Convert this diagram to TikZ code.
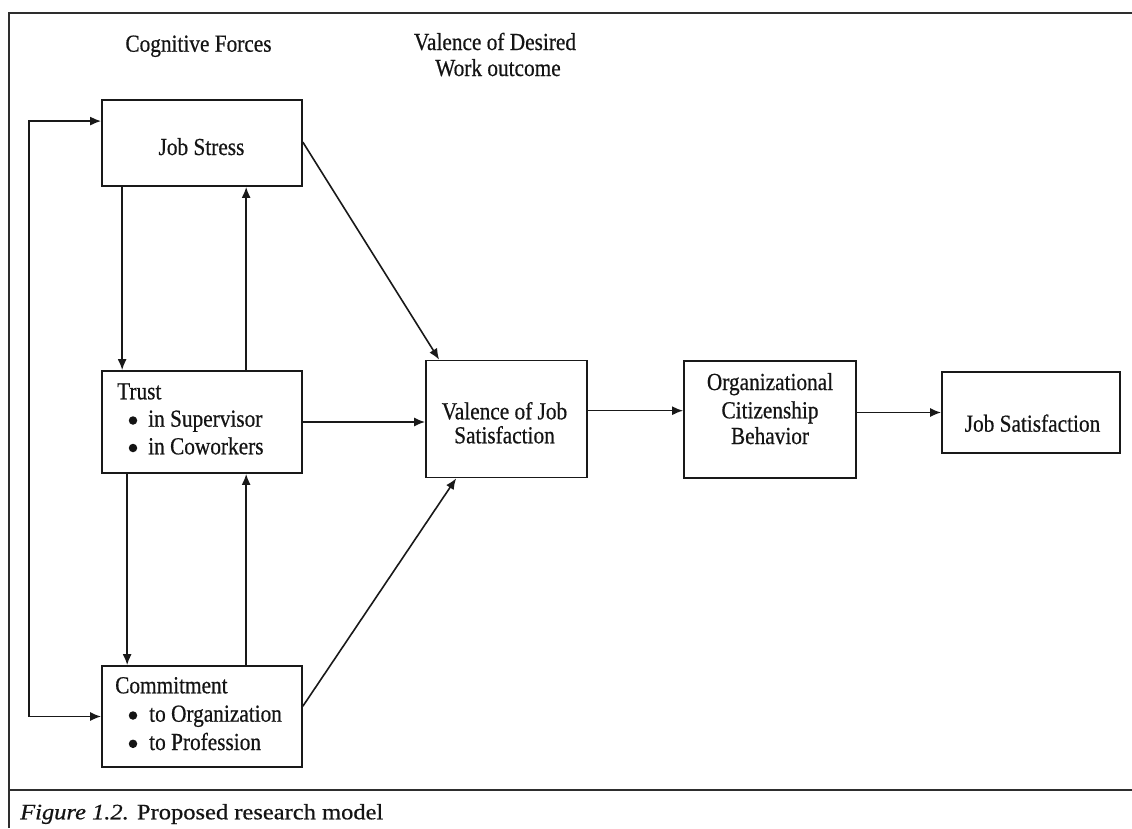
\documentclass[tikz,border=0pt]{standalone}
\usepackage{fontspec}
\usepackage{graphicx}
\setmainfont{Liberation Serif}[FakeBold=0.6]
\usetikzlibrary{arrows.meta,calc}

% slightly tall lettering used throughout the model
\newcommand{\tallword}[1]{\scalebox{1}[1.15]{#1}}

\begin{document}
\begin{tikzpicture}[x=1pt,y=-1pt,
  tip/.tip={Latex[length=11pt,width=9pt]},
  box/.style={draw=black!90, line width=1.7pt, inner sep=0pt, fill=none},
  conn/.style={draw=black!90, line width=1.6pt, -tip},
  both/.style={draw=black!90, line width=1.6pt, tip-tip},
  dot/.style={circle, fill=black!92, inner sep=0pt, minimum size=8.5pt},
  word/.style={inner sep=0pt, anchor=base, text=black!92, font=\fontsize{21.3}{26}\selectfont},
  lword/.style={word, anchor=base west},
  frame/.style={draw=black!82, line width=2pt}]

\useasboundingbox (0,0) rectangle (1132,828);

% outer frame and caption rule
\draw[frame] (9,828) -- (9,13) -- (1132,13);
\draw[frame] (9,790) -- (1132,790);

% column headings
\node[word] (hcog) at (198.5,51.7) {\tallword{Cognitive Forces}};
\node[word] (hval1) at (495,50) {\tallword{Valence of Desired}};
\node[word] (hval2) at (498,76) {\tallword{Work outcome}};

% boxes
\node[box, minimum width=200pt, minimum height=86pt] (stress) at (202,143) {};
\node[box, minimum width=200pt, minimum height=102pt] (trust) at (202,422) {};
\node[box, minimum width=200pt, minimum height=101pt] (commit) at (202,716.5) {};
\node[box, minimum width=161pt, minimum height=117pt] (valence) at (506.5,419) {};
\node[box, minimum width=172pt, minimum height=117pt] (ocb) at (770,419.5) {};
\node[box, minimum width=178pt, minimum height=81pt] (js) at (1031,412.5) {};

% box texts
\node[word] (tstress) at (201.5,155) {\tallword{Job Stress}};

\node[lword] (ttrust) at (117,399.3) {\tallword{Trust}};
\node[dot] (btrust1) at (133,420.5) {};
\node[lword] (ttrust1) at (148,426.7) {\tallword{in Supervisor}};
\node[dot] (btrust2) at (133,448) {};
\node[lword] (ttrust2) at (148,454.3) {\tallword{in Coworkers}};

\node[lword] (tcommit) at (115,693.3) {\tallword{Commitment}};
\node[dot] (bcommit1) at (133,715.5) {};
\node[lword] (tcommit1) at (149,721.7) {\tallword{to Organization}};
\node[dot] (bcommit2) at (133,743.8) {};
\node[lword] (tcommit2) at (149,750) {\tallword{to Profession}};

\node[word] (tval1) at (504.5,419.3) {\tallword{Valence of Job}};
\node[word] (tval2) at (504.5,443.3) {\tallword{Satisfaction}};

\node[word] (tocb1) at (770,390) {\tallword{Organizational}};
\node[word] (tocb2) at (770,418.3) {\tallword{Citizenship}};
\node[word] (tocb3) at (770,444) {\tallword{Behavior}};

\node[word] (tjs) at (1032.5,431.7) {\tallword{Job Satisfaction}};

% caption
\node[lword, font=\fontsize{24.5}{28}\selectfont] (cap) at (20,819.3)
  {\scalebox{1}[0.9]{\textit{Figure 1.2.} Proposed research model}};

% feedback loop between job stress and commitment
\draw[both] ($(stress.north west)!0.25!(stress.south west)$) -- ++(-72,0) |- (commit.west);

% vertical links among the cognitive forces
\draw[conn] ($(stress.south west)+(21,0)$) -- ($(trust.north west)+(21,0)$);
\draw[conn] ($(trust.north west)+(145,0)$) -- ($(stress.south west)+(145,0)$);
\draw[conn] ($(trust.south west)+(26,0)$) -- ($(commit.north west)+(26,0)$);
\draw[conn] ($(commit.north west)+(145,0)$) -- ($(trust.south west)+(145,0)$);

% links into the valence of job satisfaction
\draw[conn] ($(stress.north east)!0.49!(stress.south east)$) -- ($(valence.north west)+(14,0)$);
\draw[conn] (trust.east) -- (trust.east -| valence.west);
\draw[conn] ($(commit.north east)!0.4!(commit.south east)$) -- ($(valence.south west)+(31,0)$);

% outcome chain
\coordinate (vout) at ($(valence.north east)!0.43!(valence.south east)$);
\draw[conn] (vout) -- (vout -| ocb.west);
\draw[conn] (ocb.east |- js.west) -- (js.west);

\end{tikzpicture}
\end{document}
